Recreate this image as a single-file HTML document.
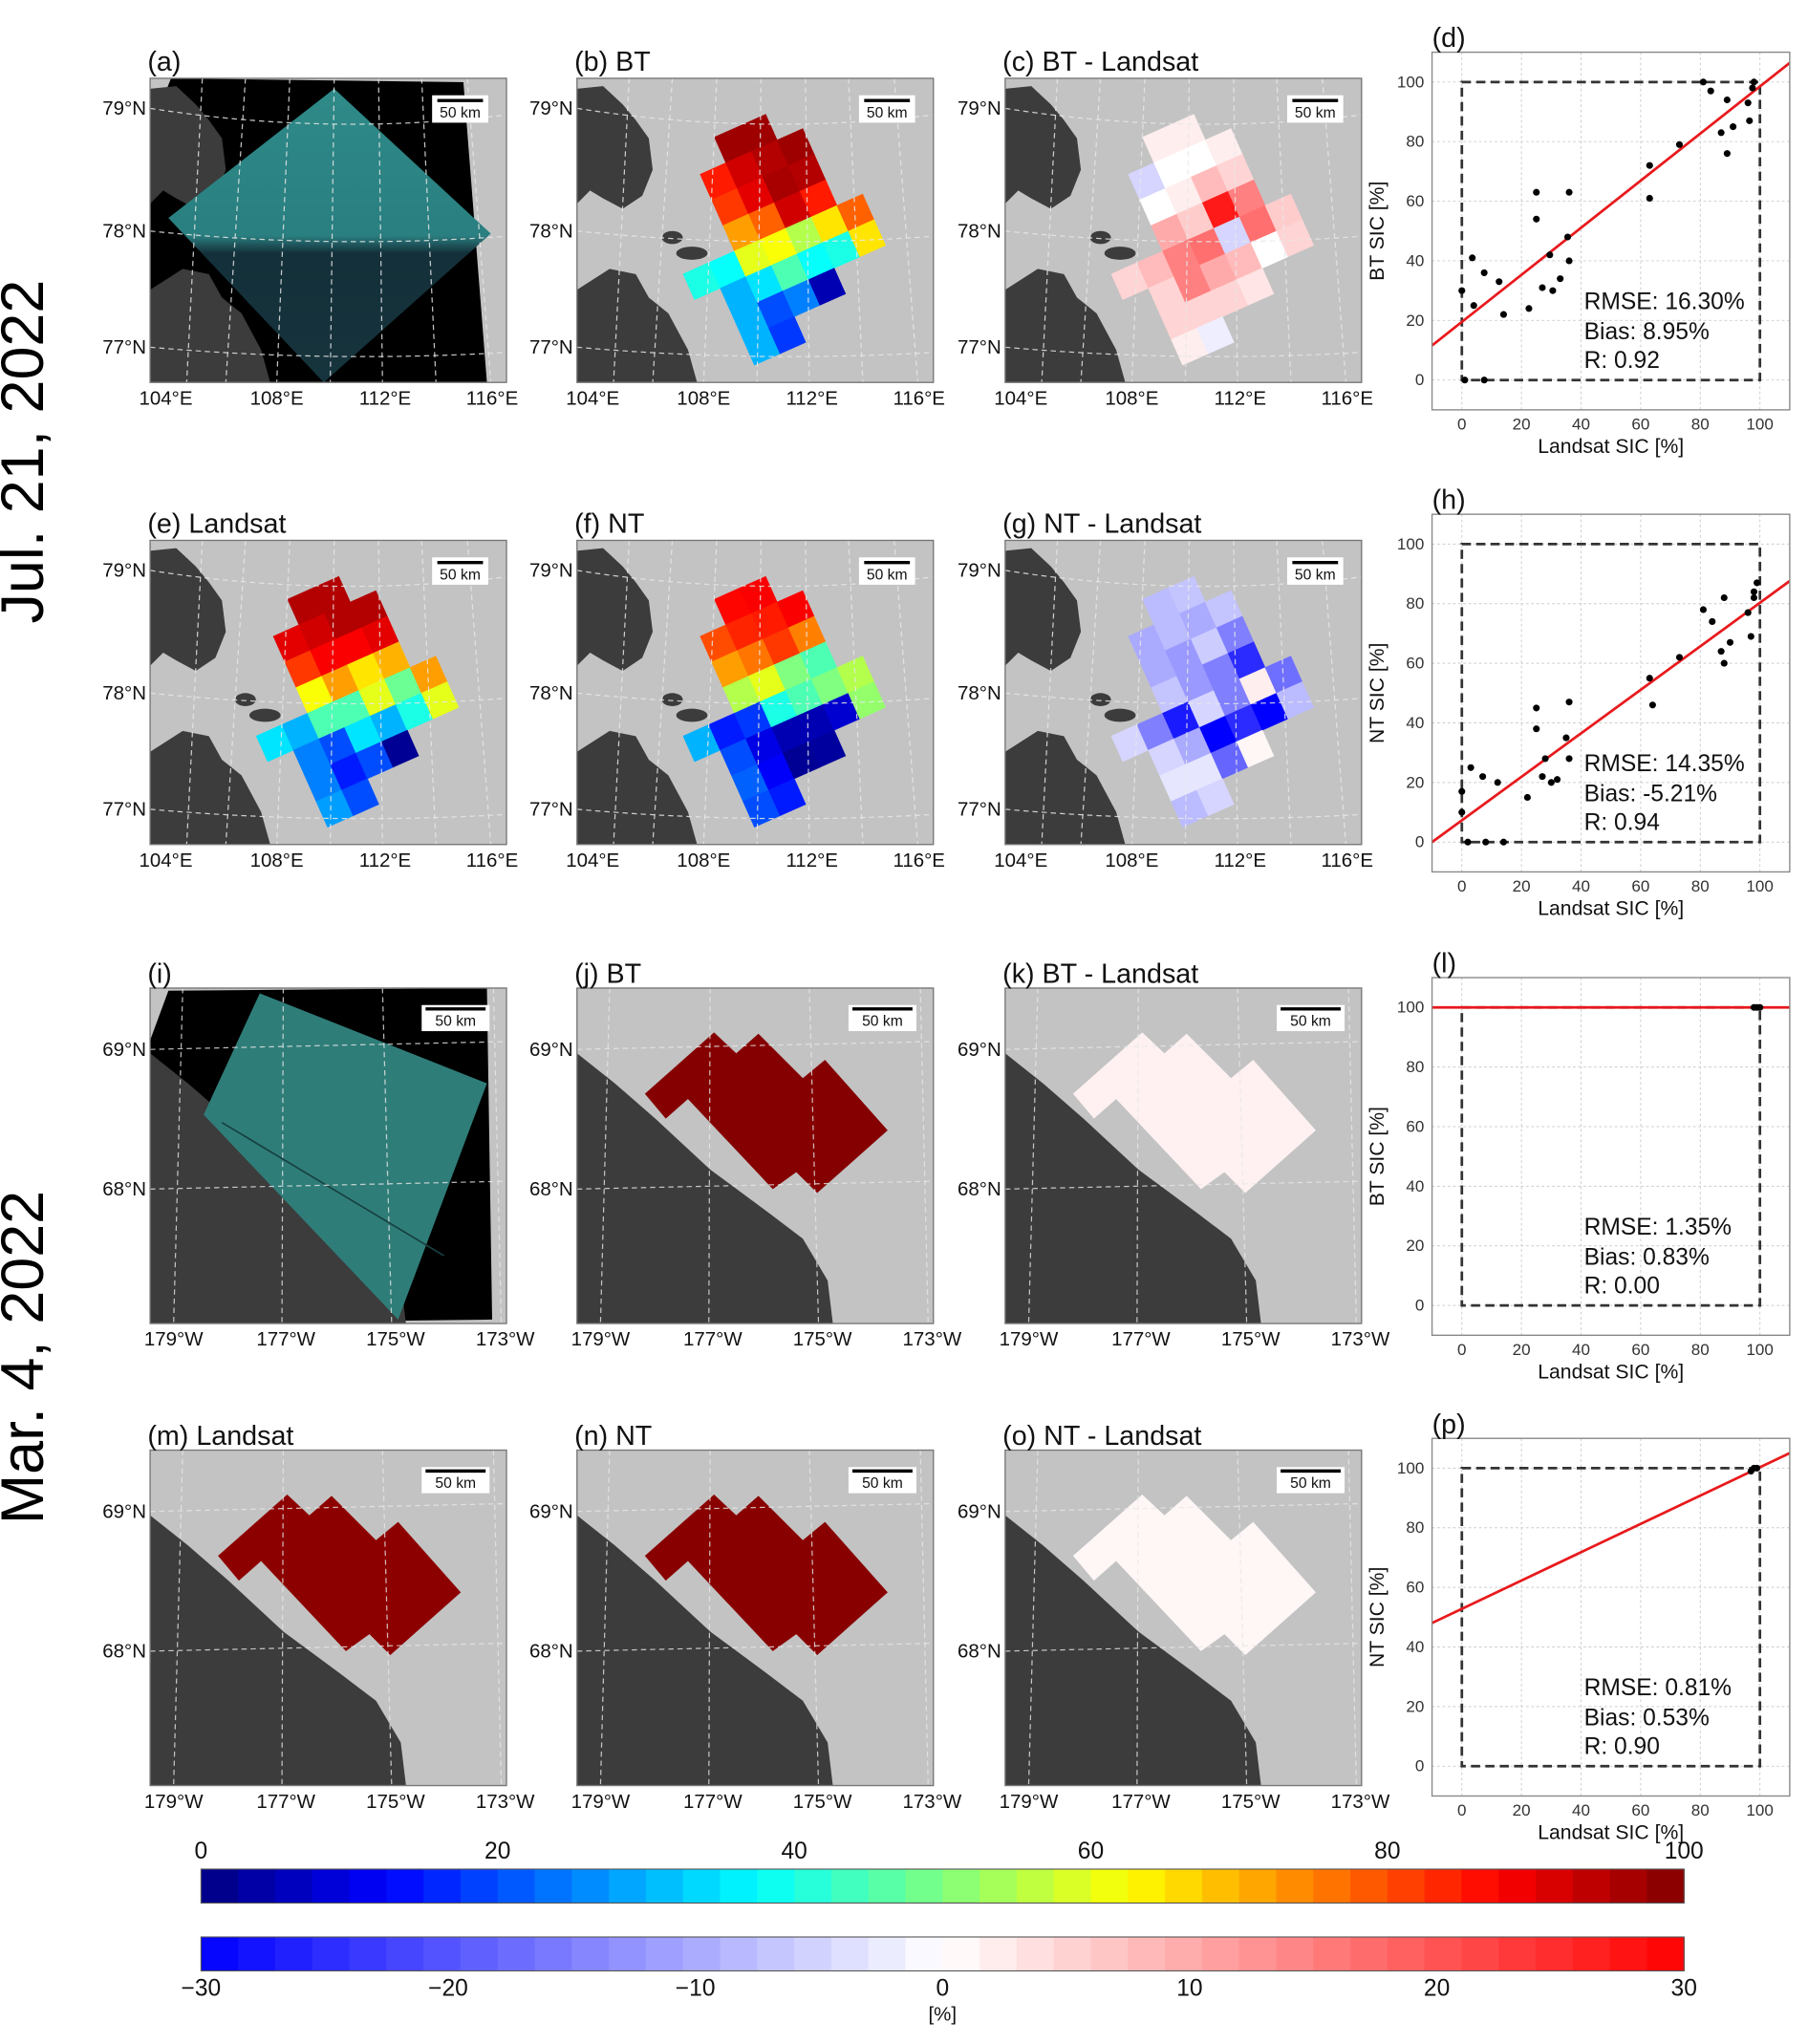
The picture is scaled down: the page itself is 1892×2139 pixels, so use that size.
<!DOCTYPE html>
<html><head><meta charset="utf-8">
<style>
html,body{margin:0;padding:0;background:#fff;}
svg{display:block;font-family:"Liberation Sans",Arial,sans-serif;}
</style></head>
<body>
<svg id="fig" xmlns="http://www.w3.org/2000/svg" width="1892" height="2139" viewBox="0 0 1385 1566" preserveAspectRatio="none">
<defs>
<linearGradient id="tealgrad" x1="0" y1="0" x2="0" y2="1">
<stop offset="0" stop-color="#2e8a88"/><stop offset="0.5" stop-color="#2a7f80"/><stop offset="0.56" stop-color="#14303a"/><stop offset="1" stop-color="#16343d"/>
</linearGradient>
</defs>
<text x="33" y="346" font-size="46" text-anchor="middle" transform="rotate(-90 33 346)">Jul. 21, 2022</text>
<text x="33" y="1040" font-size="46" text-anchor="middle" transform="rotate(-90 33 1040)">Mar. 4, 2022</text>
</svg>
<script>
// ---- data ----
const julRowStarts = [0, -1, -1, -1, -3, -2, -2, -2];
const btVals = [[97,97],[85,92,95,97],[82,90,96,95],[72,78,92,85],[40,38,60,62,55,65,78],[30,35,45,38,40,65],[30,20,25,5],[30,18]];
const landsatVals = [[95,95],[90,92,95,95],[82,88,88,90],[62,72,65,70],[35,30,45,45,60,48,72],[25,20,35,30,40,60],[25,15,20,2],[28,20]];
const ntVals = [[87,88],[80,84,85,88],[72,76,82,75],[55,60,50,45],[30,15,18,40,45,50,55],[20,10,5,5,8,52],[22,12,2,3],[20,15]];
const marBT = 99.5, marLandsat = 98.7, marNT = 99.2;
const scatDx = [0,1,3.5,4,7.5,7.5,12.5,14,22.5,25,25,27,29.5,30.5,33,35.5,36,36,63,63,73,81,83.5,87,89,89,91,96,96.5,97.5,98];
const scatDy = [30,0,41,25,36,0,33,22,24,63,54,31,42,30,34,48,63,40,72,61,79,100,97,83,94,76,85,93,87,98,100];
const scatHx = [0,0,2,3,7,8,12,14,22,25,25,27,28,30,32,35,36,36,63,64,73,81,84,87,88,88,90,96,97,98,99,98];
const scatHy = [17,10,0,25,22,0,20,0,15,45,38,22,28,20,21,35,47,28,55,46,62,78,74,64,82,60,67,77,69,84,87,82];
const scatLx = [98,99,100];
const scatLy = [100,100,100];
const scatPx = [97,98,99];
const scatPy = [99,100,100];
const fitD = [19.5,0.79], fitH = [7.3,0.73], fitL = [100,0], fitP = [52.8,0.475];
const statsD = ["RMSE: 16.30%","Bias: 8.95%","R: 0.92"];
const statsH = ["RMSE: 14.35%","Bias: -5.21%","R: 0.94"];
const statsL = ["RMSE: 1.35%","Bias: 0.83%","R: 0.00"];
const statsP = ["RMSE: 0.81%","Bias: 0.53%","R: 0.90"];
const scatTicks = [0,20,40,60,80,100];
const jetTicks = [0,20,40,60,80,100];
const bwrTicks = [-30,-20,-10,0,10,20,30];

const NS='http://www.w3.org/2000/svg';
const svg=document.getElementById('fig');
function mk(tag, attrs, name, parent){
  const e=document.createElementNS(NS,tag);
  for(const k in attrs) e.setAttribute(k, attrs[k]);
  
  
  (parent||svg).appendChild(e);
  return e;
}
function txt(x,y,s,size,name,anchor,parent,extra){
  const a=Object.assign({x:x,y:y,'font-size':size,'text-anchor':anchor||'start',fill:'#111'},extra||{});
  const t=mk('text',a,name,parent); t.textContent=s; return t;
}
function cl(v){return Math.max(0,Math.min(1,v));}
function jet(v){const t=cl(v/100);
  const r=cl(1.5-Math.abs(4*t-3)),g=cl(1.5-Math.abs(4*t-2)),b=cl(1.5-Math.abs(4*t-1));
  return `rgb(${Math.round(r*255)},${Math.round(g*255)},${Math.round(b*255)})`;}
function bwr(v){const t=cl((v+30)/60);let r,g,b;
  if(t<0.5){r=g=2*t;b=1;}else{r=1;g=b=2*(1-t);}
  return `rgb(${Math.round(r*255)},${Math.round(g*255)},${Math.round(b*255)})`;}
const pts=a=>a.map(p=>p.join(',')).join(' ');

const julLand=[[[0,8],[20,6],[35,20],[45,32],[55,46],[58,70],[50,90],[35,100],[20,92],[10,86],[0,96]],
  [[0,162],[25,146],[45,150],[55,168],[70,180],[85,208],[92,233],[0,233]]];
const marLand=[[0,50],[29,73],[60,100],[102,139],[144,170],[173,192],[192,224],[196,257],[0,257]];
const marShape=[[52,81],[105,34],[122,50],[139,35],[173,69],[190,55],[238,109],[184,157],[168,141],[150,154],[85,85],[68,100]];

function julMap(px,py,label,kind,vals,diff){
  const W=273,H=233;
  const g=mk('g',{transform:`translate(${px},${py})`},'map-panel-'+label.slice(1,2),svg);
  mk('rect',{x:0,y:0,width:W,height:H,fill:'#c3c3c3'},'ocean-background',g);
  if(kind==='img'){
    mk('polygon',{points:'16,0 240,3 258,233 0,233 0,40',fill:'#000'},'image-background',g);
  }
  julLand.forEach(p=>mk('polygon',{points:pts(p),fill:'#3c3c3c'},'land',g));
  mk('ellipse',{cx:73,cy:122,rx:8,ry:5,fill:'#3c3c3c'},'island',g);
  mk('ellipse',{cx:88,cy:134,rx:12,ry:5,fill:'#3c3c3c'},'island',g);
  if(kind==='img'){
    mk('polygon',{points:'141,8 261,119 133,233 14,107',fill:'url(#tealgrad)'},'landsat-image',g);
  } else {
    const cg=mk('g',{transform:'translate(105,45) rotate(-24)'},'sic-grid',g);
    const s=21.5;
    vals.forEach((row,r)=>row.forEach((v,i)=>{
      const c=mk('rect',{x:(julRowStarts[r]+i)*s,y:r*s,width:s+0.4,height:s+0.4,fill:diff?bwr(v):jet(v)},'sic-cell',cg);
    }));
  }
  const lon=[[40,28],[73,58],[107,97],[141,138],[175,178],[208,219],[243,261]];
  lon.forEach(l=>mk('line',{x1:l[0],y1:0,x2:l[1],y2:H,stroke:'#e8e8e8','stroke-width':0.9,'stroke-dasharray':'4,3',opacity:0.85},'meridian',g));
  const lat=[[23,35,28],[117,125,121],[206,213,210]];
  lat.forEach(l=>{const cy=2*l[1]-(l[0]+l[2])/2;
    mk('path',{d:`M0,${l[0]} Q${W/2},${cy} ${W},${l[2]}`,fill:'none',stroke:'#e8e8e8','stroke-width':0.9,'stroke-dasharray':'4,3',opacity:0.85},'parallel',g);});
  mk('rect',{x:0,y:0,width:W,height:H,fill:'none',stroke:'#777','stroke-width':1},'map-frame',g);
  mk('rect',{x:216,y:13,width:43,height:21,fill:'#fff'},'scale-bar-box',g);
  mk('line',{x1:220,y1:17,x2:255,y2:17,stroke:'#000','stroke-width':2.5},'scale-bar',g);
  txt(237.5,30,'50 km',11.5,'scale-bar-label','middle',g);
  txt(-2,-6,label,21,'panel-title','start',g);
  [['79°N',23],['78°N',117],['77°N',206]].forEach(a=>txt(-3,a[1]+5,a[0],15,'lat-label','end',g));
  [['104°E',12],['108°E',97],['112°E',180],['116°E',262]].forEach(a=>txt(a[1],H+17,a[0],15,'lon-label','middle',g));
}
function marMap(px,py,label,kind,val,diff){
  const W=273,H=257;
  const g=mk('g',{transform:`translate(${px},${py})`},'map-panel-'+label.slice(1,2),svg);
  mk('rect',{x:0,y:0,width:W,height:H,fill:'#c3c3c3'},'ocean-background',g);
  if(kind==='img') mk('polygon',{points:'14,2 258,0 262,254 0,257 0,40',fill:'#000'},'image-background',g);
  mk('polygon',{points:pts(marLand),fill:'#3c3c3c'},'land',g);
  if(kind==='img'){
    mk('polygon',{points:'84,4 258,73 190,254 41,97',fill:'#2f7d79'},'landsat-image',g);
    mk('line',{x1:55,y1:103,x2:225,y2:205,stroke:'#16403f','stroke-width':1.2},'ice-lead',g);
  } else {
    mk('polygon',{points:pts(marShape),fill:diff?bwr(val):jet(val)},'sic-region',g);
  }
  [[25,18],[102,101],[178,185],[263,269]].forEach(l=>mk('line',{x1:l[0],y1:0,x2:l[1],y2:H,stroke:'#e8e8e8','stroke-width':0.9,'stroke-dasharray':'4,3',opacity:0.8},'meridian',g));
  [[47,41],[154,148]].forEach(l=>mk('line',{x1:0,y1:l[0],x2:W,y2:l[1],stroke:'#e8e8e8','stroke-width':0.9,'stroke-dasharray':'4,3',opacity:0.8},'parallel',g));
  mk('rect',{x:0,y:0,width:W,height:H,fill:'none',stroke:'#777','stroke-width':1},'map-frame',g);
  mk('rect',{x:208,y:13,width:52,height:20,fill:'#fff'},'scale-bar-box',g);
  mk('line',{x1:211,y1:16,x2:257,y2:16,stroke:'#000','stroke-width':2.5},'scale-bar',g);
  txt(234,29,'50 km',11.5,'scale-bar-label','middle',g);
  txt(-2,-4,label,21,'panel-title','start',g);
  [['69°N',47],['68°N',154]].forEach(a=>txt(-3,a[1]+5,a[0],15,'lat-label','end',g));
  [['179°W',18],['177°W',104],['175°W',188],['173°W',272]].forEach(a=>txt(a[1],H+17,a[0],15,'lon-label','middle',g));
}
function scatter(x0,y0,label,ylab,xs,ys,fit,stats){
  const W=274,H=274;
  const g=mk('g',{transform:`translate(${x0},${y0})`},'scatter-panel-'+label.slice(1,2),svg);
  const X=v=>(v+10)/120*W, Y=v=>H-(v+10)/120*H;
  mk('rect',{x:0,y:0,width:W,height:H,fill:'#fff'},'plot-area',g);
  scatTicks.forEach(t=>{
    mk('line',{x1:X(t),y1:0,x2:X(t),y2:H,stroke:'#ccc','stroke-width':0.7,'stroke-dasharray':'2,2'},'x-gridline',g);
    mk('line',{x1:0,y1:Y(t),x2:W,y2:Y(t),stroke:'#ccc','stroke-width':0.7,'stroke-dasharray':'2,2'},'y-gridline',g);
    txt(X(t),H+15,String(t),12.5,'x-tick-label','middle',g,{fill:'#333'});
    txt(-6,Y(t)+4,String(t),12.5,'y-tick-label','end',g,{fill:'#333'});
  });
  mk('rect',{x:X(0),y:Y(100),width:X(100)-X(0),height:Y(0)-Y(100),fill:'none',stroke:'#333','stroke-width':2,'stroke-dasharray':'7,4'},'reference-box',g);
  mk('line',{x1:X(-10),y1:Y(fit[0]+fit[1]*-10),x2:X(110),y2:Y(fit[0]+fit[1]*110),stroke:'#e8191c','stroke-width':2},'regression-line',g);
  xs.forEach((v,i)=>mk('circle',{cx:X(v),cy:Y(ys[i]),r:2.6,fill:'#000'},'data-point',g));
  stats.forEach((s,i)=>txt(X(41),Y(100)+[174,197,219][i],s,18,'stats-text','start',g));
  mk('rect',{x:0,y:0,width:W,height:H,fill:'none',stroke:'#888','stroke-width':1},'axes-frame',g);
  txt(0,-4,label,21,'panel-title','start',g);
  txt(W/2,H+33,'Landsat SIC [%]',15.5,'x-axis-title','middle',g);
  txt(-37,H/2,ylab,15.5,'y-axis-title','middle',g,{transform:`rotate(-90 -37 ${H/2})`});
}
function diffArr(a,b){return a.map((r,i)=>r.map((v,j)=>v-b[i][j]));}

julMap(115,60,'(a)','img',null,false);
julMap(442,60,'(b) BT','sic',btVals,false);
julMap(770,60,'(c) BT - Landsat','sic',diffArr(btVals,landsatVals),true);
julMap(115,414,'(e) Landsat','sic',landsatVals,false);
julMap(442,414,'(f) NT','sic',ntVals,false);
julMap(770,414,'(g) NT - Landsat','sic',diffArr(ntVals,landsatVals),true);
marMap(115,757,'(i)','img',0,false);
marMap(442,757,'(j) BT','sic',marBT,false);
marMap(770,757,'(k) BT - Landsat','sic',marBT-marLandsat+0.9,true);
marMap(115,1111,'(m) Landsat','sic',marLandsat,false);
marMap(442,1111,'(n) NT','sic',marNT,false);
marMap(770,1111,'(o) NT - Landsat','sic',marNT-marLandsat+0.6,true);
scatter(1097,40,'(d)','BT SIC [%]',scatDx,scatDy,fitD,statsD);
scatter(1097,394,'(h)','NT SIC [%]',scatHx,scatHy,fitH,statsH);
scatter(1097,749,'(l)','BT SIC [%]',scatLx,scatLy,fitL,statsL);
scatter(1097,1102,'(p)','NT SIC [%]',scatPx,scatPy,fitP,statsP);

// colorbars
const cbx0=154, cbx1=1290;
const jg=mk('g',{},'colorbar-sic',svg);
for(let i=0;i<40;i++){
  const v=i*2.5, x=cbx0+(cbx1-cbx0)*i/40;
  mk('rect',{x:x,y:1432,width:(cbx1-cbx0)/40+0.5,height:26,fill:jet(v+1.25)},'colorbar-bin',jg);
}
mk('rect',{x:cbx0,y:1432,width:cbx1-cbx0,height:26,fill:'none',stroke:'#555','stroke-width':0.8},'colorbar-frame',jg);
jetTicks.forEach(t=>txt(cbx0+(cbx1-cbx0)*t/100,1424,String(t),18,'colorbar-tick-label','middle',jg));
const bg=mk('g',{},'colorbar-diff',svg);
for(let i=0;i<40;i++){
  const v=-30+i*1.5, x=cbx0+(cbx1-cbx0)*i/40;
  mk('rect',{x:x,y:1484,width:(cbx1-cbx0)/40+0.5,height:26,fill:bwr(v+0.75)},'colorbar-bin',bg);
}
mk('rect',{x:cbx0,y:1484,width:cbx1-cbx0,height:26,fill:'none',stroke:'#555','stroke-width':0.8},'colorbar-frame',bg);
bwrTicks.forEach(t=>txt(cbx0+(cbx1-cbx0)*(t+30)/60,1529,String(t).replace('-','\u2212'),18,'colorbar-tick-label','middle',bg));
txt(722,1548,'[%]',15,'colorbar-unit-label','middle',bg);
</script>
</body></html>
